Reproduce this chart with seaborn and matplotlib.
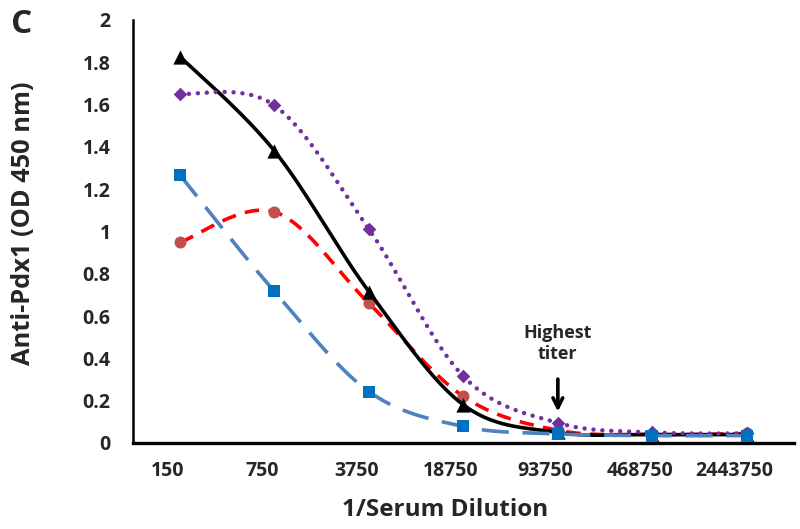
import numpy as np
import pandas as pd
import matplotlib
matplotlib.use("Agg")
import matplotlib.pyplot as plt
import seaborn as sns

# ---- data ----
dilutions = ["150", "750", "3750", "18750", "93750", "468750", "2443750"]
black_tri = [1.826, 1.38, 0.715, 0.18, 0.05, 0.04, 0.04]
purple_dia = [1.65, 1.595, 1.01, 0.315, 0.095, 0.05, 0.045]
red_circ = [0.948, 1.092, 0.66, 0.22, 0.06, 0.04, 0.045]
blue_sq = [1.266, 0.716, 0.243, 0.078, 0.043, 0.035, 0.035]
y_ticks = [0, 0.2, 0.4, 0.6, 0.8, 1, 1.2, 1.4, 1.6, 1.8, 2]
y_tick_labels = ["0", "0.2", "0.4", "0.6", "0.8", "1", "1.2", "1.4", "1.6", "1.8", "2"]
annot_index = 4  # "Highest titer" at 93750

sns.set_style("white")
plt.rcParams["font.family"] = ["Open Sans", "DejaVu Sans"]
plt.rcParams["font.weight"] = "bold"


def excel_smooth(y, n=40):
    """Excel-like smoothed line (Catmull-Rom style Bezier) through the points."""
    x = np.arange(len(y), dtype=float)
    P = np.column_stack([x, np.asarray(y, dtype=float)])
    out = []
    for i in range(len(P) - 1):
        p0 = P[i - 1] if i > 0 else P[i]
        p1 = P[i]
        p2 = P[i + 1]
        p3 = P[i + 2] if i + 2 < len(P) else P[i + 1]
        c1 = p1 + (p2 - p0) / 6.0
        c2 = p2 - (p3 - p1) / 6.0
        t = np.linspace(0, 1, n)[:, None]
        seg = ((1 - t) ** 3) * p1 + 3 * ((1 - t) ** 2) * t * c1 + 3 * (1 - t) * t ** 2 * c2 + t ** 3 * p2
        out.append(seg if i == 0 else seg[1:])
    s = np.vstack(out)
    return s[:, 0], s[:, 1]


fig = plt.figure(figsize=(8, 5.29), dpi=100)
ax = fig.add_axes([0.166, 0.1626, 0.8265, 0.8])

pos = np.arange(len(dilutions))

series = [
    (red_circ, "#ff0000", "#c0504d", "o", 75, (0, (4.0, 2.6)), "butt", 3),
    (black_tri, "#000000", "#000000", "^", 105, "-", "butt", 4),
    (purple_dia, "#7030a0", "#7030a0", "D", 48, (0, (0.01, 2.0)), "round", 5),
    (blue_sq, "#4f81bd", "#0070c0", "s", 80, (0, (7.5, 3.8)), "butt", 6),
]

for vals, lc, mc, mk, ms, ls, cap, z in series:
    xs, ys = excel_smooth(vals)
    df = pd.DataFrame({"x": xs, "y": ys})
    lw = 2.6 if mk != "D" else 3.2
    sns.lineplot(data=df, x="x", y="y", sort=False, estimator=None, ax=ax,
                 color=lc, linewidth=lw, linestyle=ls, dash_capstyle=cap,
                 solid_capstyle="round", zorder=z)
    sns.scatterplot(x=pos, y=vals, marker=mk, s=ms, color=mc, edgecolor=mc,
                    linewidth=0, ax=ax, zorder=z + 0.5)

ax.set_xlim(-0.5, len(dilutions) - 0.5)
ax.set_ylim(0, 2)
ax.set_yticks(y_ticks)
ax.set_yticklabels(y_tick_labels)
ax.set_xticks(pos - 0.13)
ax.set_xticklabels(dilutions)

for s in ["top", "right"]:
    ax.spines[s].set_visible(False)
ax.spines["left"].set_linewidth(1.8)
ax.spines["bottom"].set_linewidth(2.4)
ax.spines["left"].set_color("black")
ax.spines["bottom"].set_color("black")

ax.tick_params(axis="y", direction="out", length=5, width=1.3, color="black",
               pad=11, labelsize=14)
ax.tick_params(axis="x", length=0, pad=13, labelsize=14)
ax.grid(False)

ax.set_xlabel("1/Serum Dilution", fontsize=17.5, fontweight="bold")
ax.set_ylabel("Anti-Pdx1 (OD 450 nm)", fontsize=18.3, fontweight="bold")
ax.xaxis.set_label_coords(0.472, -0.13)
ax.yaxis.set_label_coords(-0.146, 0.52)

# annotation
ax.annotate("", xy=(annot_index, purple_dia[annot_index] + 0.04),
            xytext=(annot_index, 0.315),
            arrowprops=dict(arrowstyle="->,head_length=0.7,head_width=0.35",
                            color="black", lw=2.6))
ax.text(annot_index, 0.47, "Highest\ntiter", ha="center", va="center",
        fontsize=13, fontweight="bold", linespacing=1.25)

fig.text(0.027, 0.953, "C", fontsize=24, fontweight="bold", ha="center", va="center")

fig.savefig("out.png", dpi=100)
